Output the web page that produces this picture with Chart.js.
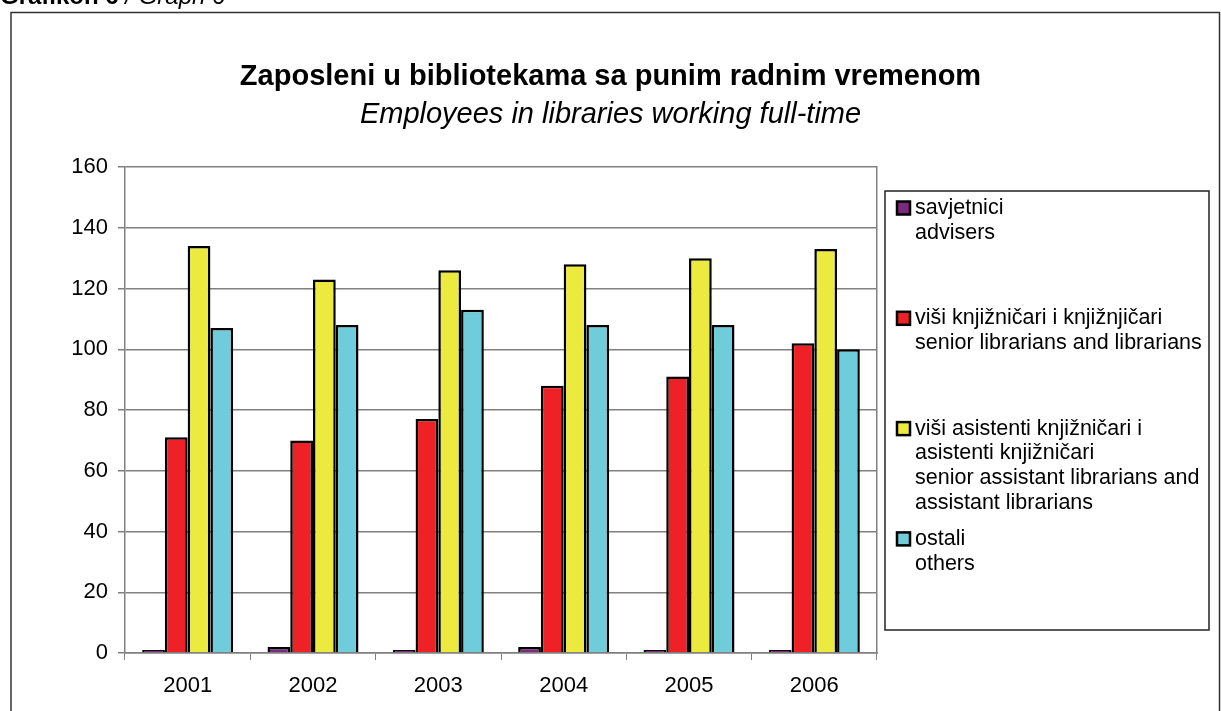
<!DOCTYPE html>
<html>
<head>
<meta charset="utf-8">
<script src="https://cdn.jsdelivr.net/npm/chart.js@4/dist/chart.umd.min.js"></script>
<style>
  html, body { margin: 0; padding: 0; background: #fff; }
  #wrap { width: 1221px; height: 711px; position: relative; }
</style>
</head>
<body>
<div id="wrap"><canvas id="chart"></canvas></div>
<script>
// data
const years = ['2001', '2002', '2003', '2004', '2005', '2006'];
const advisers = [1, 2, 1, 2, 1, 1];
const librarians = [71, 70, 77, 88, 91, 102];
const assistants = [134, 123, 126, 128, 130, 133];
const others = [107, 108, 113, 108, 108, 100];

const seriesLabels = [
    ['savjetnici', 'advisers'],
    ['viši knjižničari i knjižnjičari', 'senior librarians and librarians'],
    ['viši asistenti knjižničari i', 'asistenti knjižničari', 'senior assistant librarians and', 'assistant librarians'],
    ['ostali', 'others']
];
const seriesColors = ['#7B2A7E', '#EE2226', '#ECEA3E', '#6FCCDA'];

const FONT = "'Liberation Sans', Arial, sans-serif";
const GRID = '#808080';

// frame, page caption and the multi-line legend box
const decorPlugin = {
    id: 'decor',
    beforeDraw(chart) {
        const ctx = chart.ctx;
        ctx.save();
        ctx.strokeStyle = '#333';
        ctx.lineWidth = 1.5;
        ctx.strokeRect(11, 12.5, 1208.5, 720);
        ctx.fillStyle = '#000';
        ctx.textBaseline = 'alphabetic';
        ctx.font = 'bold 24px ' + FONT;
        ctx.fillText('Grafikon 6', 0, 4);
        const w = ctx.measureText('Grafikon 6 ').width;
        ctx.font = 'italic 24px ' + FONT;
        ctx.fillText('/ Graph 6', w, 4);
        ctx.restore();
    },
    afterDraw(chart) {
        const ctx = chart.ctx;
        ctx.save();
        ctx.strokeStyle = '#222';
        ctx.lineWidth = 1.5;
        ctx.strokeRect(885, 191, 324, 439);
        ctx.font = '21.5px ' + FONT;
        ctx.textBaseline = 'middle';
        chart.data.datasets.forEach((ds, i) => {
            const y0 = 208 + i * 110.3;
            ctx.fillStyle = ds.backgroundColor;
            ctx.fillRect(897, y0 - 6.5, 13, 13);
            ctx.strokeStyle = '#000';
            ctx.lineWidth = 2.5;
            ctx.strokeRect(897, y0 - 6.5, 13, 13);
            ctx.fillStyle = '#000';
            ds.label.forEach((line, j) => ctx.fillText(line, 915, y0 + j * 24.8));
        });
        ctx.restore();
    }
};

const seriesData = [advisers, librarians, assistants, others];

new Chart(document.getElementById('chart'), {
    type: 'bar',
    data: {
        labels: years,
        datasets: seriesData.map((d, i) => ({
            label: seriesLabels[i],
            data: d,
            backgroundColor: seriesColors[i],
            borderColor: '#000',
            borderWidth: 2.5,
            borderSkipped: 'bottom',
            categoryPercentage: 0.726,
            barPercentage: 1.0
        }))
    },
    options: {
        responsive: true,
        maintainAspectRatio: false,
        animation: false,
        devicePixelRatio: 1,
        layout: { padding: 0 },
        plugins: {
            legend: { display: false },
            tooltip: { enabled: false },
            title: {
                display: true,
                text: 'Zaposleni u bibliotekama sa punim radnim vremenom',
                color: '#000',
                font: { family: FONT, size: 29, weight: 'bold', lineHeight: 1.2 },
                padding: { top: 59.6, bottom: 3.2 }
            },
            subtitle: {
                display: true,
                text: 'Employees in libraries working full-time',
                color: '#000',
                font: { family: FONT, size: 29, style: 'italic', lineHeight: 1.2 },
                padding: { top: 0, bottom: 34.6 }
            }
        },
        scales: {
            x: {
                grid: { drawOnChartArea: false, color: GRID, tickLength: 7, offset: true },
                border: { color: GRID, width: 1.5 },
                ticks: { color: '#000', font: { family: FONT, size: 22 }, padding: 13, maxRotation: 0 },
                afterFit(s) { s.height = 58; }
            },
            y: {
                min: 0,
                max: 160,
                ticks: { stepSize: 20, color: '#000', font: { family: FONT, size: 22 }, padding: 10 },
                grid: { color: GRID, lineWidth: 1.5, tickLength: 7 },
                border: { color: GRID, width: 1.5 },
                afterFit(s) { s.width = 125; }
            },
            // empty right-hand scale that reserves room for the legend box
            side: {
                type: 'linear',
                position: 'right',
                display: true,
                grid: { display: false },
                ticks: { display: false },
                border: { display: true, color: GRID, width: 1.5 },
                afterFit(s) { s.width = 344; }
            }
        }
    },
    plugins: [decorPlugin]
});
</script>
</body>
</html>
